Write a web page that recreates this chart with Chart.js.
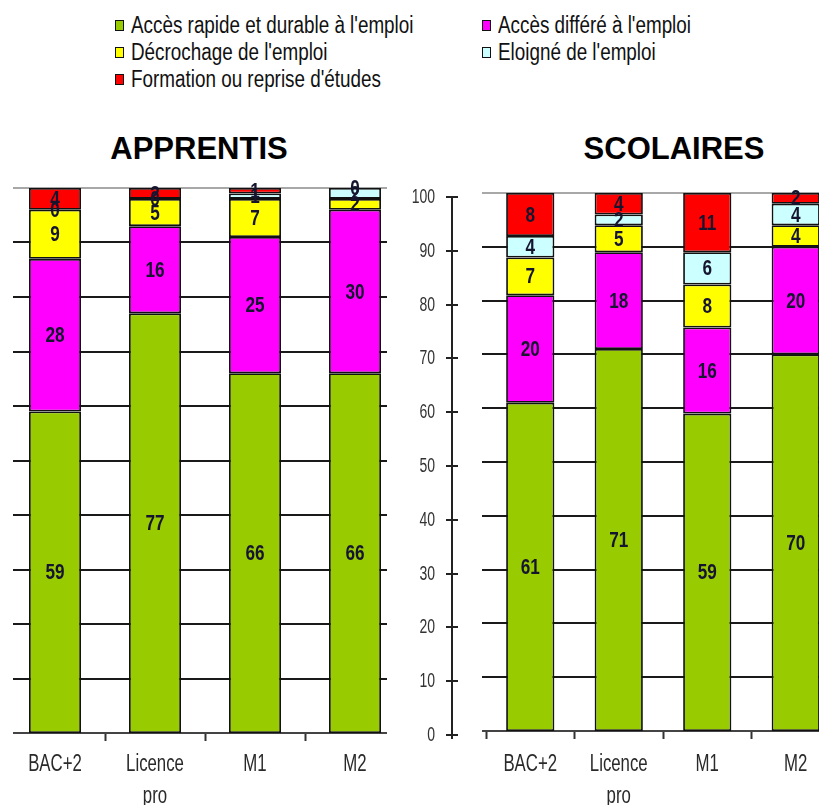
<!DOCTYPE html>
<html>
<head>
<meta charset="UTF-8">
<title>Apprentis / Scolaires</title>
<script src="https://cdn.jsdelivr.net/npm/chart.js"></script>
<style>
  html, body { margin: 0; padding: 0; background: #fff; overflow: hidden; }
  body { width: 819px; height: 805px; position: relative; }
  #legend { position: absolute; left: 0; top: 12px; width: 819px; font-family: "Liberation Sans", Arial, sans-serif; }
  .item { position: absolute; height: 27px; line-height: 27px; font-size: 23px; color: #111; white-space: nowrap; }
  .item i { position: absolute; left: 0; top: 8px; width: 7px; height: 9px; border: 1.5px solid #111; }
  .item span { position: absolute; left: 16px; display: inline-block; transform: scaleX(0.82); transform-origin: 0 50%; }
  .title { position: absolute; top: 131px; width: 300px; text-align: center; font: bold 31px "Liberation Sans", Arial, sans-serif; line-height: 36px; color: #000; }
  canvas { position: absolute; }
</style>
</head>
<body>
<div id="legend"></div>
<div class="title" style="left:49px">APPRENTIS</div>
<div class="title" style="left:524px">SCOLAIRES</div>
<canvas id="apprentis" width="410" height="625" style="left:0;top:180px"></canvas>
<canvas id="scolaires" width="450" height="625" style="left:400px;top:180px"></canvas>
<script>
// categories and series
const categories = [['BAC+2'], ['Licence', 'pro'], ['M1'], ['M2']];
const seriesNames = [
  "Accès rapide et durable à l'emploi",
  "Accès différé à l'emploi",
  "Décrochage de l'emploi",
  "Eloigné de l'emploi",
  "Formation ou reprise d'études"
];
const seriesColors = ['#99CC00', '#FF00FF', '#FFFF00', '#CCFFFF', '#FF0000'];
const yTickValues = [0, 10, 20, 30, 40, 50, 60, 70, 80, 90, 100];

// APPRENTIS (%)
const apprRapide   = [59, 77, 66, 66];
const apprDiffere  = [28, 16, 25, 30];
const apprDecroche = [9, 5, 7, 2];
const apprEloigne  = [0, 0, 1, 2];
const apprFormation = [4, 2, 1, 0];

// SCOLAIRES (%)
const scolRapide   = [61, 71, 59, 70];
const scolDiffere  = [20, 18, 16, 20];
const scolDecroche = [7, 5, 8, 4];
const scolEloigne  = [4, 2, 6, 4];
const scolFormation = [8, 4, 11, 2];

const SANS = '"Liberation Sans", Arial, sans-serif';

// legend: two columns, row-major order like the original
const legend = document.getElementById('legend');
const legendCols = [115, 482];
seriesNames.forEach((name, i) => {
  const d = document.createElement('div');
  d.className = 'item';
  d.style.left = legendCols[i % 2] + 'px';
  d.style.top = (Math.floor(i / 2) * 27) + 'px';
  d.innerHTML = '<i style="background:' + seriesColors[i] + '"></i><span></span>';
  d.querySelector('span').textContent = name;
  legend.appendChild(d);
});

// the original uses a condensed face, so squeeze Liberation Sans horizontally
function narrowText(ctx, text, x, y, sx) {
  ctx.save();
  ctx.translate(x, y);
  ctx.scale(sx, 1);
  ctx.fillText(text, 0, 0);
  ctx.restore();
}

// horizontal grid lines, drawn behind the bars
const gridLines = {
  id: 'gridLines',
  beforeDatasetsDraw(chart, args, opts) {
    const { ctx, chartArea } = chart;
    const y = chart.scales.y;
    const x0 = chartArea.left + opts.insetLeft;
    const x1 = chartArea.right - opts.insetRight;
    ctx.save();
    yTickValues.forEach(v => {
      const py = Math.round(y.getPixelForValue(v));
      ctx.strokeStyle = v === 100 ? '#a8a8a8' : (v === 0 ? '#444' : '#1a1a1a');
      ctx.lineWidth = 2;
      ctx.beginPath();
      ctx.moveTo(x0, py);
      ctx.lineTo(x1, py);
      ctx.stroke();
    });
    ctx.restore();
  }
};

// category labels + (scolaires) detached y axis with its labels
const axisText = {
  id: 'axisText',
  afterDraw(chart, args, opts) {
    const { ctx, chartArea } = chart;
    const x = chart.scales.x;
    const y = chart.scales.y;
    ctx.save();
    ctx.fillStyle = '#2a2a2a';
    ctx.font = '23px ' + SANS;
    ctx.textAlign = 'center';
    ctx.textBaseline = 'middle';
    categories.forEach((lines, i) => {
      lines.forEach((t, j) => {
        narrowText(ctx, t, x.getPixelForValue(i), chartArea.bottom + opts.labelTop + j * 32, 0.73);
      });
    });
    if (opts.showY) {
      const ax = chartArea.left - opts.gap;
      ctx.strokeStyle = '#222';
      ctx.lineWidth = 2;
      ctx.beginPath();
      ctx.moveTo(ax, y.getPixelForValue(100) + opts.shift);
      ctx.lineTo(ax, y.getPixelForValue(0) + opts.shift + 4);
      ctx.stroke();
      ctx.font = '20px ' + SANS;
      ctx.textAlign = 'right';
      ctx.fillStyle = '#333';
      yTickValues.forEach(v => {
        const py = Math.round(y.getPixelForValue(v) + opts.shift);
        ctx.beginPath();
        ctx.moveTo(ax - 6, py);
        ctx.lineTo(ax + 6, py);
        ctx.stroke();
        narrowText(ctx, String(v), chartArea.left - 51, py, 0.7);
      });
    }
    ctx.restore();
  }
};

// value labels in the middle of each segment
const valueLabels = {
  id: 'valueLabels',
  afterDatasetsDraw(chart) {
    const { ctx } = chart;
    ctx.save();
    ctx.font = 'bold 22px ' + SANS;
    ctx.textAlign = 'center';
    ctx.textBaseline = 'middle';
    ctx.fillStyle = '#151530';
    chart.data.datasets.forEach((ds, di) => {
      const meta = chart.getDatasetMeta(di);
      meta.data.forEach((bar, i) => {
        narrowText(ctx, String(ds.data[i]), bar.x, (bar.y + bar.base) / 2 + 1, 0.78);
      });
    });
    ctx.restore();
  }
};

function makeDatasets(values, barPct) {
  return values.map((data, i) => ({
    label: seriesNames[i],
    data,
    backgroundColor: seriesColors[i],
    borderColor: '#111',
    borderWidth: 1.8,
    borderSkipped: false,
    barPercentage: barPct,
    categoryPercentage: 1
  }));
}

function makeChart(id, values, cfg) {
  return new Chart(document.getElementById(id), {
    type: 'bar',
    data: { labels: categories.map(c => c.join(' ')), datasets: makeDatasets(values, cfg.barPct) },
    options: {
      responsive: false,
      animation: false,
      layout: { padding: cfg.padding },
      plugins: {
        legend: { display: false },
        title: { display: false },
        tooltip: { enabled: false },
        gridLines: cfg.grid,
        axisText: cfg.axis
      },
      scales: {
        x: {
          stacked: true,
          border: { display: false },
          grid: {
            offset: true,
            drawOnChartArea: false,
            drawTicks: true,
            tickLength: 8,
            tickWidth: 2,
            tickColor: cfg.tickColor
          },
          ticks: { display: false },
          afterFit: s => { s.height = cfg.xHeight; }
        },
        y: {
          stacked: true,
          min: 0,
          max: 100,
          display: false
        }
      }
    },
    plugins: [gridLines, axisText, valueLabels]
  });
}

makeChart('apprentis',
  [apprRapide, apprDiffere, apprDecroche, apprEloigne, apprFormation],
  {
    barPct: 0.52,
    padding: { top: 8, left: 5, right: 5, bottom: 0 },
    grid: { insetLeft: 8, insetRight: 18 },
    axis: { showY: false, labelTop: 32 },
    tickColor: c => (c.index > 0 && c.index < 4) ? '#333' : 'rgba(0,0,0,0)',
    xHeight: 72
  });

makeChart('scolaires',
  [scolRapide, scolDiffere, scolDecroche, scolEloigne, scolFormation],
  {
    barPct: 0.545,
    padding: { top: 13, left: 86, right: 10, bottom: 0 },
    grid: { insetLeft: -4, insetRight: 0 },
    axis: { showY: true, gap: 34, shift: 4, labelTop: 34 },
    tickColor: '#333',
    xHeight: 74
  });
</script>
</body>
</html>
